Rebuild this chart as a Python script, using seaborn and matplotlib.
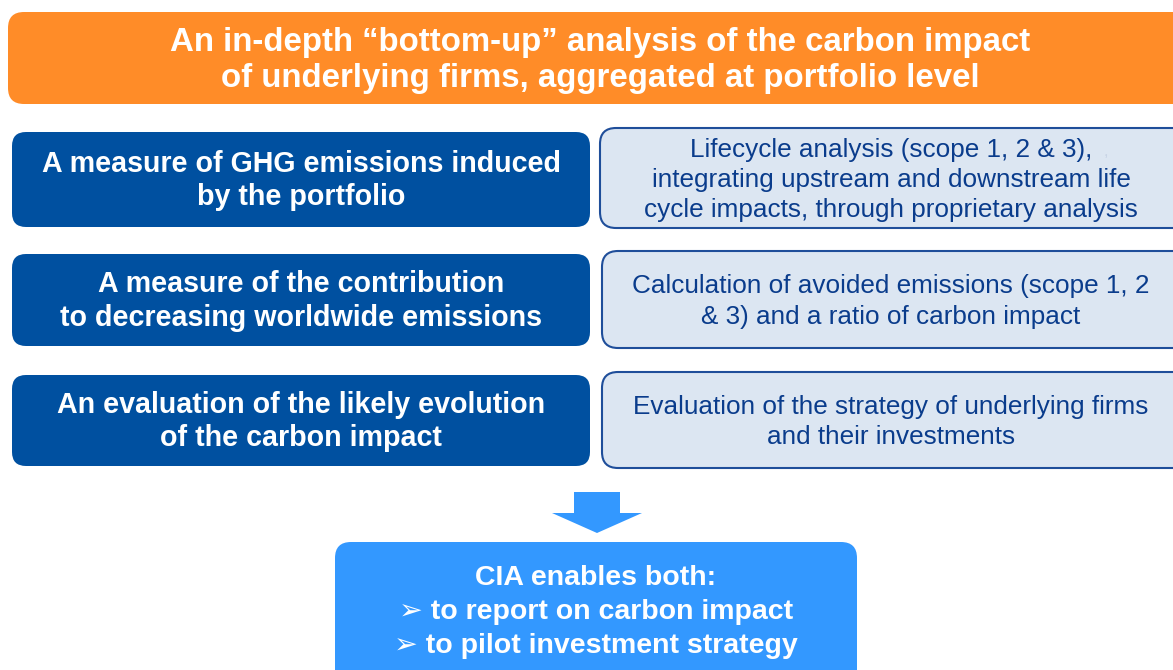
import matplotlib.pyplot as plt
import seaborn as sns
from matplotlib.patches import FancyBboxPatch, Polygon

sns.set_theme(style="white")
plt.rcParams['font.family'] = ['Liberation Sans', 'DejaVu Sans']

# text content
title_lines = ["An in-depth \u201cbottom-up\u201d analysis of the carbon impact",
               "of underlying firms, aggregated at portfolio level"]
left_texts = ["A measure of GHG emissions induced\nby the portfolio",
              "A measure of the contribution\nto decreasing worldwide emissions",
              "An evaluation of the likely evolution\nof the carbon impact"]
right_texts = ["Lifecycle analysis (scope 1, 2 & 3),\nintegrating upstream and downstream life\ncycle impacts, through proprietary analysis",
               "Calculation of avoided emissions (scope 1, 2\n& 3) and a ratio of carbon impact",
               "Evaluation of the strategy of underlying firms\nand their investments"]
bottom_lines = ["CIA enables both:",
                "\u27a2 to report on carbon impact",
                "\u27a2 to pilot investment strategy"]

# box rows (top, bottom) in pixels
left_rows = [(132, 227), (254, 346), (375, 466)]
right_rows = [(128, 228), (251, 348), (372, 468)]

ORANGE = "#FF8C28"
DARK = "#0050A0"
LIGHT = "#DCE6F2"
BRIGHT = "#3398FF"

fig = plt.figure(figsize=(11.73, 6.70), dpi=100)
ax = fig.add_axes([0, 0, 1, 1])
ax.set_xlim(0, 1173)
ax.set_ylim(670, 0)
ax.axis("off")


def rbox(x0, y0, x1, y1, fc, ec="none", lw=0, r=14):
    p = FancyBboxPatch((x0, y0), x1 - x0, y1 - y0,
                       boxstyle=f"round,pad=0,rounding_size={r}",
                       fc=fc, ec=ec, lw=lw)
    ax.add_patch(p)


# title banner
rbox(8, 12, 1190, 104, ORANGE, r=16)
for i, line in enumerate(title_lines):
    ax.text(600, 42 + i * 36, line, ha="center", va="center", color="white",
            fontsize=23.8, fontweight="bold")

# left dark boxes
for (t, b), txt in zip(left_rows, left_texts):
    rbox(12, t, 590, b, DARK, r=14)
    ax.text(301, (t + b) / 2 + 1, txt, ha="center", va="center", color="white",
            fontsize=20.6, fontweight="bold", linespacing=1.25)

# right light boxes, text drawn line by line
step = 30.5
for i, ((t, b), txt) in enumerate(zip(right_rows, right_texts)):
    rbox(600 + (2 if i else 0), t, 1190, b, LIGHT, ec="#1F4E9A", lw=1.5, r=16)
    lines = txt.split("\n")
    y0 = (t + b) / 2 + 2 - step * (len(lines) - 1) / 2
    for j, line in enumerate(lines):
        ax.text(891, y0 + j * step, line, ha="center", va="center",
                color="#0A3C8C", fontsize=18.8)
# faint stray comma after the first line
ax.text(1104, 152, ",", ha="left", va="center", color="#C8D4E6", fontsize=12)

# arrow
ax.add_patch(Polygon([(574, 492), (620, 492), (620, 513), (642, 513),
                      (597, 533), (552, 513), (574, 513)], closed=True,
                     fc=BRIGHT, ec="none"))

# bottom box
rbox(335, 542, 857, 700, BRIGHT, r=16)
for i, line in enumerate(bottom_lines):
    ax.text(596, 578 + i * 34, line, ha="center", va="center", color="white",
            fontsize=20.5, fontweight="bold")

fig.savefig("out.png", dpi=100)
